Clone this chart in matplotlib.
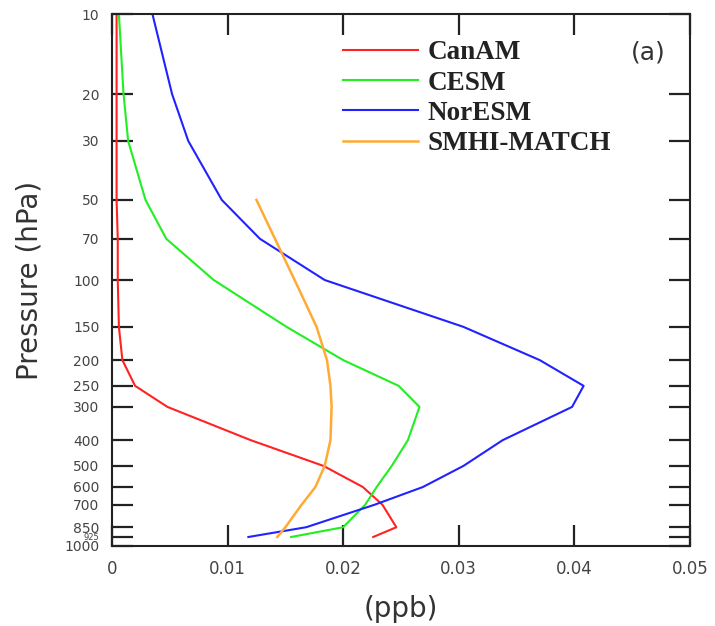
import numpy as np
import matplotlib.pyplot as plt
from matplotlib.ticker import FixedLocator, NullLocator, FixedFormatter

# pressure levels (hPa)
plev = [10, 20, 30, 50, 70, 100, 150, 200, 250, 300, 400, 500, 600, 700, 850, 925]
plev_orange = [50, 70, 100, 150, 200, 250, 300, 400, 500, 600, 700, 850, 925]

canam = [0.0004, 0.0004, 0.0004, 0.0004, 0.0005, 0.0005, 0.0006, 0.0009, 0.0020, 0.0048,
         0.0120, 0.0183, 0.0217, 0.0234, 0.0246, 0.0226]
cesm = [0.0006, 0.0010, 0.0014, 0.0029, 0.0047, 0.0088, 0.0151, 0.0200, 0.0248, 0.0266,
        0.0256, 0.0242, 0.0229, 0.0219, 0.0200, 0.0155]
noresm = [0.0035, 0.0052, 0.0066, 0.0095, 0.0128, 0.0184, 0.0304, 0.0370, 0.0408, 0.0398,
          0.0338, 0.0304, 0.0269, 0.0227, 0.0168, 0.0118]
smhi = [0.0125, 0.0141, 0.0158, 0.0177, 0.0186, 0.0189, 0.0190, 0.0189, 0.0184, 0.0176,
        0.0164, 0.0150, 0.0143]

yticks = [10, 20, 30, 50, 70, 100, 150, 200, 250, 300, 400, 500, 600, 700, 850, 925, 1000]
xticks = [0, 0.01, 0.02, 0.03, 0.04, 0.05]

fig = plt.figure(figsize=(7.15, 6.26), dpi=100)
ax = fig.add_axes([0.1566, 0.1278, 0.8084, 0.8498])

ax.plot(canam, plev, color='#ff2222', lw=1.5, label='CanAM')
ax.plot(cesm, plev, color='#22ee22', lw=1.5, label='CESM')
ax.plot(noresm, plev, color='#2222ff', lw=1.5, label='NorESM')
ax.plot(smhi, plev_orange, color='#ffaa33', lw=1.8, label='SMHI-MATCH')

ax.set_yscale('log')
ax.set_ylim(1000, 10)
ax.set_xlim(0, 0.05)
ax.yaxis.set_major_locator(FixedLocator(yticks))
ax.yaxis.set_major_formatter(FixedFormatter([str(v) for v in yticks]))
ax.yaxis.set_minor_locator(NullLocator())
ax.set_xticks(xticks)
ax.set_xticklabels(['0', '0.01', '0.02', '0.03', '0.04', '0.05'])

ax.tick_params(axis='both', direction='in', length=15, width=1.6,
               top=True, right=True, colors='#222222')
ax.tick_params(axis='y', labelsize=10, labelcolor='#444444', pad=9)
ax.tick_params(axis='x', labelsize=12, labelcolor='#444444', pad=10)
# the 925 label is squeezed between 850 and 1000
for lbl in ax.get_yticklabels():
    if lbl.get_text() == '925':
        lbl.set_fontsize(6)
for s in ax.spines.values():
    s.set_linewidth(1.5)
    s.set_color('#222222')

ax.set_ylabel('Pressure (hPa)', fontsize=20, color='#333333')
ax.yaxis.set_label_coords(-0.118, 0.5)
ax.set_xlabel('(ppb)', fontsize=20, color='#333333', labelpad=12)

ax.text(0.927, 0.927, '(a)', transform=ax.transAxes, fontsize=18,
        color='#333333', ha='center', va='center')

ax.legend(loc='upper left', bbox_to_anchor=(0.399, 0.951), frameon=False,
          prop={'family': 'Liberation Serif', 'weight': 'bold', 'size': 19.5},
          handlelength=2.8, handletextpad=0.35, labelspacing=0.2,
          borderpad=0, borderaxespad=0, labelcolor='#222222')

fig.savefig('out.png', dpi=100)
